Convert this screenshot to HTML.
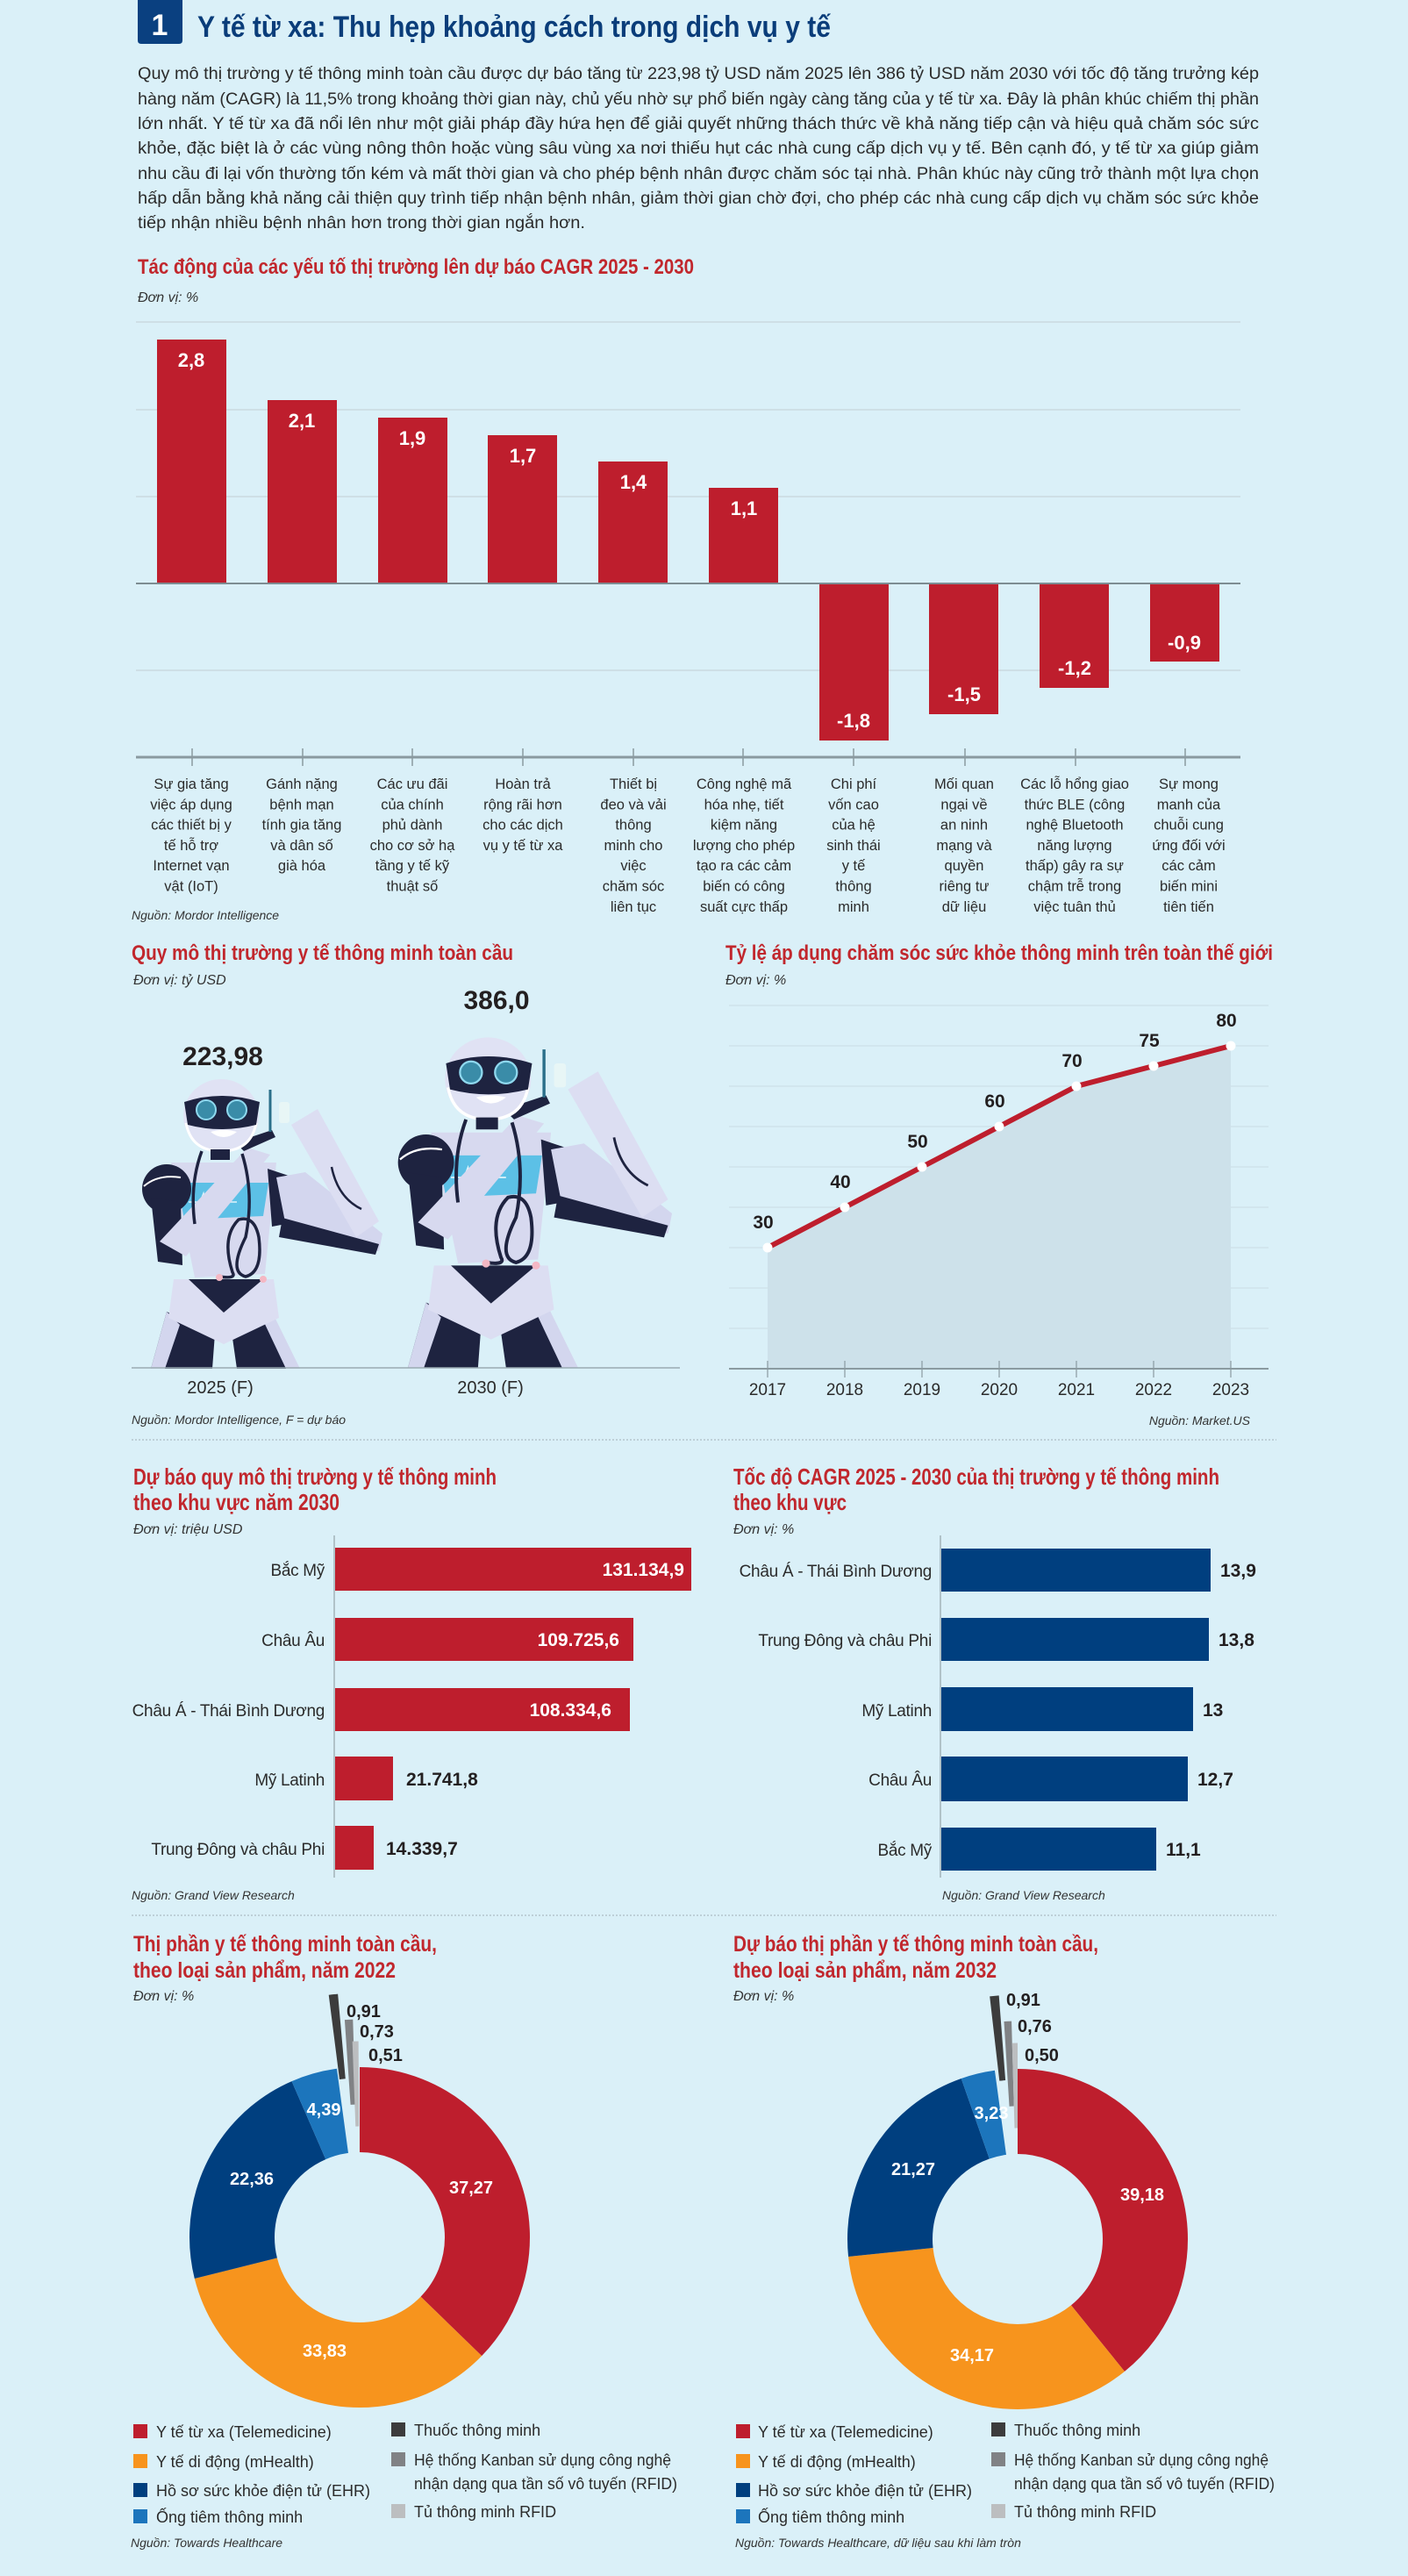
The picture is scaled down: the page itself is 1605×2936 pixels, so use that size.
<!DOCTYPE html>
<html><head><meta charset="utf-8"><style>
html,body{margin:0;padding:0;background:#daf0f8;}
svg{display:block;font-family:"Liberation Sans",sans-serif;}
.h{font-weight:bold;fill:#c1272d;}
.u{font-style:italic;fill:#333;font-size:16px;}
.src{font-style:italic;fill:#333;font-size:14px;}
.p{font-size:19px;fill:#2b2b2b;}
.cat{font-size:16.5px;fill:#2b2b2b;text-anchor:middle;}
.bv{font-size:22px;fill:#fff;font-weight:bold;text-anchor:middle;}
.lg{font-size:18px;fill:#2b2b2b;}
.hl{font-size:19px;fill:#2b2b2b;text-anchor:end;letter-spacing:-0.3px;}
</style></head><body>
<svg width="1605" height="2936" viewBox="0 0 1605 2936" xmlns="http://www.w3.org/2000/svg">
<defs>
<radialGradient id="sh" cx="0.5" cy="1" r="0.5">
<stop offset="0" stop-color="#9fb2ba"/><stop offset="1" stop-color="#daf0f8" stop-opacity="0"/>
</radialGradient>
<g id="robot">
  <polygon points="40,275 95,300 92,340 22,340" fill="#1e2340"/>
  <polygon points="40,275 22,340 38,340 55,290" fill="#d3d6ee"/>
  <polygon points="115,305 160,275 187,340 120,340" fill="#1e2340"/>
  <polygon points="160,275 192,340 176,340 150,285" fill="#d3d6ee"/>
  <polygon points="48,238 162,238 168,282 105,312 42,282" fill="#dcdef2"/>
  <polygon points="65,238 150,238 105,276" fill="#1e2340"/>
  <polygon points="45,105 165,105 152,232 72,236" fill="#d7d9ef"/>
  <polygon points="52,128 156,128 150,166 60,170" fill="#5cc0e6"/>
  <polyline points="65,150 78,150 82,140 86,158 90,146 100,150 120,150" fill="none" stroke="#dff4fb" stroke-width="1.5"/>
  <circle cx="40" cy="135" r="28" fill="#1e2340"/>
  <path d="M14,132 Q30,118 56,122" fill="none" stroke="#fff" stroke-width="2"/>
  <polygon points="155,112 185,122 192,172 160,178" fill="#1e2340"/>
  <polygon points="22,145 56,150 58,222 30,218" fill="#1e2340"/>
  <polygon points="32,195 132,88 158,96 62,212" fill="#d7d9ef"/>
  <polygon points="118,82 160,68 164,76 128,92" fill="#1e2340"/>
  <polygon points="165,122 198,116 286,186 282,206 178,188" fill="#d3d6ee"/>
  <polygon points="172,168 282,198 278,210 168,190" fill="#1e2340"/>
  <polygon points="182,62 212,44 282,172 256,190" fill="#dcdef2"/>
  <path d="M228,110 Q235,145 262,158" fill="none" stroke="#1e2340" stroke-width="2.5"/>
  <rect x="168" y="36" width="12" height="24" rx="3" fill="#e8f6f6"/>
  <line x1="158" y1="22" x2="158" y2="70" stroke="#2b6f8a" stroke-width="3"/>
  <ellipse cx="102" cy="52" rx="43" ry="42" fill="#e0e2f4"/>
  <path d="M62,60 Q68,92 102,92 Q136,92 142,60" fill="none" stroke="#fff" stroke-width="3"/>
  <path d="M60,36 Q102,22 146,36 L142,62 Q102,72 64,62 Z" fill="#1e2340"/>
  <circle cx="85" cy="45" r="11" fill="#3a8ca8" stroke="#8fd8ee" stroke-width="2"/>
  <circle cx="120" cy="45" r="11" fill="#3a8ca8" stroke="#8fd8ee" stroke-width="2"/>
  <path d="M90,70 Q105,66 120,70 Q105,82 90,70 Z" fill="#fff"/>
  <rect x="90" y="90" width="22" height="12" fill="#1e2340"/>
  <path d="M80,92 Q66,130 72,175 M126,95 Q140,140 130,190 Q110,230 130,235 Q150,230 145,190 Q140,165 122,170 Q102,190 115,230 Q120,238 100,235" fill="none" stroke="#1e2340" stroke-width="3.5"/>
  <circle cx="100" cy="236" r="4" fill="#f4b8c4"/><circle cx="150" cy="238" r="4" fill="#f4b8c4"/>
</g>
</defs>
<rect width="1605" height="2936" fill="#daf0f8"/>
<ellipse cx="800" cy="2945" rx="560" ry="50" fill="url(#sh)"/>

<path d="M157,0 H208 V46 Q208,50 204,50 H161 Q157,50 157,46 Z" fill="#0a4080"/>
<text x="182" y="40" font-size="34" font-weight="bold" fill="#fff" text-anchor="middle">1</text>
<text x="225" y="42" font-size="34" font-weight="bold" fill="#0a3d7a" textLength="722" lengthAdjust="spacingAndGlyphs">Y tế từ xa: Thu hẹp khoảng cách trong dịch vụ y tế</text>

<g class="p">
<text x="157" y="90" textLength="1278" lengthAdjust="spacingAndGlyphs">Quy mô thị trường y tế thông minh toàn cầu được dự báo tăng từ 223,98 tỷ USD năm 2025 lên 386 tỷ USD năm 2030 với tốc độ tăng trưởng kép</text>
<text x="157" y="119" textLength="1278" lengthAdjust="spacingAndGlyphs">hàng năm (CAGR) là 11,5% trong khoảng thời gian này, chủ yếu nhờ sự phổ biến ngày càng tăng của y tế từ xa. Đây là phân khúc chiếm thị phần</text>
<text x="157" y="147" textLength="1278" lengthAdjust="spacingAndGlyphs">lớn nhất. Y tế từ xa đã nổi lên như một giải pháp đầy hứa hẹn để giải quyết những thách thức về khả năng tiếp cận và hiệu quả chăm sóc sức</text>
<text x="157" y="175" textLength="1278" lengthAdjust="spacingAndGlyphs">khỏe, đặc biệt là ở các vùng nông thôn hoặc vùng sâu vùng xa nơi thiếu hụt các nhà cung cấp dịch vụ y tế. Bên cạnh đó, y tế từ xa giúp giảm</text>
<text x="157" y="204" textLength="1278" lengthAdjust="spacingAndGlyphs">nhu cầu đi lại vốn thường tốn kém và mất thời gian và cho phép bệnh nhân được chăm sóc tại nhà. Phân khúc này cũng trở thành một lựa chọn</text>
<text x="157" y="232" textLength="1278" lengthAdjust="spacingAndGlyphs">hấp dẫn bằng khả năng cải thiện quy trình tiếp nhận bệnh nhân, giảm thời gian chờ đợi, cho phép các nhà cung cấp dịch vụ chăm sóc sức khỏe</text>
<text x="157" y="260" textLength="510" lengthAdjust="spacingAndGlyphs">tiếp nhận nhiều bệnh nhân hơn trong thời gian ngắn hơn.</text>
</g>

<text class="h" x="157" y="312" font-size="24" textLength="634" lengthAdjust="spacingAndGlyphs">Tác động của các yếu tố thị trường lên dự báo CAGR 2025 - 2030</text>
<text class="u" x="157" y="344">Đơn vị: %</text>
<g stroke="#c9d9df" stroke-width="1.5">
<line x1="155" y1="367" x2="1414" y2="367"/><line x1="155" y1="467" x2="1414" y2="467"/>
<line x1="155" y1="566" x2="1414" y2="566"/><line x1="155" y1="764" x2="1414" y2="764"/>
</g>
<g fill="#be1e2d">
<rect x="179" y="387" width="79" height="278"/>
<rect x="305" y="456" width="79" height="209"/>
<rect x="431" y="476" width="79" height="189"/>
<rect x="556" y="496" width="79" height="169"/>
<rect x="682" y="526" width="79" height="139"/>
<rect x="808" y="556" width="79" height="109"/>
<rect x="934" y="665" width="79" height="179"/>
<rect x="1059" y="665" width="79" height="149"/>
<rect x="1185" y="665" width="79" height="119"/>
<rect x="1311" y="665" width="79" height="89"/>
</g>
<line x1="155" y1="665" x2="1414" y2="665" stroke="#7d8c92" stroke-width="2"/>
<g class="bv">
<text x="218" y="418">2,8</text><text x="344" y="487">2,1</text><text x="470" y="507">1,9</text>
<text x="596" y="527">1,7</text><text x="722" y="557">1,4</text><text x="848" y="587">1,1</text>
<text x="973" y="829">-1,8</text><text x="1099" y="799">-1,5</text><text x="1225" y="769">-1,2</text><text x="1350" y="740">-0,9</text>
</g>
<line x1="155" y1="863" x2="1414" y2="863" stroke="#8a9aa0" stroke-width="3"/>
<g stroke="#8a9aa0" stroke-width="1.5">
<line x1="219" y1="853" x2="219" y2="873"/><line x1="345" y1="853" x2="345" y2="873"/><line x1="470" y1="853" x2="470" y2="873"/>
<line x1="596" y1="853" x2="596" y2="873"/><line x1="722" y1="853" x2="722" y2="873"/><line x1="847" y1="853" x2="847" y2="873"/>
<line x1="973" y1="853" x2="973" y2="873"/><line x1="1100" y1="853" x2="1100" y2="873"/><line x1="1226" y1="853" x2="1226" y2="873"/>
<line x1="1351" y1="853" x2="1351" y2="873"/>
</g>
<g class="cat">
<text x="218" y="899">Sự gia tăng<tspan x="218" dy="23.3">việc áp dụng</tspan><tspan x="218" dy="23.3">các thiết bị y</tspan><tspan x="218" dy="23.3">tế hỗ trợ</tspan><tspan x="218" dy="23.3">Internet vạn</tspan><tspan x="218" dy="23.3">vật (IoT)</tspan></text>
<text x="344" y="899">Gánh nặng<tspan x="344" dy="23.3">bệnh mạn</tspan><tspan x="344" dy="23.3">tính gia tăng</tspan><tspan x="344" dy="23.3">và dân số</tspan><tspan x="344" dy="23.3">già hóa</tspan></text>
<text x="470" y="899">Các ưu đãi<tspan x="470" dy="23.3">của chính</tspan><tspan x="470" dy="23.3">phủ dành</tspan><tspan x="470" dy="23.3">cho cơ sở hạ</tspan><tspan x="470" dy="23.3">tầng y tế kỹ</tspan><tspan x="470" dy="23.3">thuật số</tspan></text>
<text x="596" y="899">Hoàn trả<tspan x="596" dy="23.3">rộng rãi hơn</tspan><tspan x="596" dy="23.3">cho các dịch</tspan><tspan x="596" dy="23.3">vụ y tế từ xa</tspan></text>
<text x="722" y="899">Thiết bị<tspan x="722" dy="23.3">đeo và vải</tspan><tspan x="722" dy="23.3">thông</tspan><tspan x="722" dy="23.3">minh cho</tspan><tspan x="722" dy="23.3">việc</tspan><tspan x="722" dy="23.3">chăm sóc</tspan><tspan x="722" dy="23.3">liên tục</tspan></text>
<text x="848" y="899">Công nghệ mã<tspan x="848" dy="23.3">hóa nhẹ, tiết</tspan><tspan x="848" dy="23.3">kiệm năng</tspan><tspan x="848" dy="23.3">lượng cho phép</tspan><tspan x="848" dy="23.3">tạo ra các cảm</tspan><tspan x="848" dy="23.3">biến có công</tspan><tspan x="848" dy="23.3">suất cực thấp</tspan></text>
<text x="973" y="899">Chi phí<tspan x="973" dy="23.3">vốn cao</tspan><tspan x="973" dy="23.3">của hệ</tspan><tspan x="973" dy="23.3">sinh thái</tspan><tspan x="973" dy="23.3">y tế</tspan><tspan x="973" dy="23.3">thông</tspan><tspan x="973" dy="23.3">minh</tspan></text>
<text x="1099" y="899">Mối quan<tspan x="1099" dy="23.3">ngại về</tspan><tspan x="1099" dy="23.3">an ninh</tspan><tspan x="1099" dy="23.3">mạng và</tspan><tspan x="1099" dy="23.3">quyền</tspan><tspan x="1099" dy="23.3">riêng tư</tspan><tspan x="1099" dy="23.3">dữ liệu</tspan></text>
<text x="1225" y="899">Các lỗ hổng giao<tspan x="1225" dy="23.3">thức BLE (công</tspan><tspan x="1225" dy="23.3">nghệ Bluetooth</tspan><tspan x="1225" dy="23.3">năng lượng</tspan><tspan x="1225" dy="23.3">thấp) gây ra sự</tspan><tspan x="1225" dy="23.3">chậm trễ trong</tspan><tspan x="1225" dy="23.3">việc tuân thủ</tspan></text>
<text x="1355" y="899">Sự mong<tspan x="1355" dy="23.3">manh của</tspan><tspan x="1355" dy="23.3">chuỗi cung</tspan><tspan x="1355" dy="23.3">ứng đối với</tspan><tspan x="1355" dy="23.3">các cảm</tspan><tspan x="1355" dy="23.3">biến mini</tspan><tspan x="1355" dy="23.3">tiên tiến</tspan></text>
</g>
<text class="src" x="150" y="1048">Nguồn: Mordor Intelligence</text>

<text class="h" x="150" y="1094" font-size="24" textLength="435" lengthAdjust="spacingAndGlyphs">Quy mô thị trường y tế thông minh toàn cầu</text>
<text class="u" x="152" y="1122">Đơn vị: tỷ USD</text>
<use href="#robot" transform="translate(150,1220)"/>
<use href="#robot" transform="translate(440,1171) scale(1.14)"/>
<line x1="150" y1="1559" x2="775" y2="1559" stroke="#9aabb2" stroke-width="1.5"/>
<text x="254" y="1214" font-size="30" font-weight="bold" fill="#231f20" text-anchor="middle">223,98</text>
<text x="566" y="1150" font-size="30" font-weight="bold" fill="#231f20" text-anchor="middle">386,0</text>
<text x="251" y="1588" font-size="20" fill="#2b2b2b" text-anchor="middle">2025 (F)</text>
<text x="559" y="1588" font-size="20" fill="#2b2b2b" text-anchor="middle">2030 (F)</text>
<text class="src" x="150" y="1623" font-size="12.5">Nguồn: Mordor Intelligence, F = dự báo</text>

<text class="h" x="827" y="1094" font-size="24" textLength="624" lengthAdjust="spacingAndGlyphs">Tỷ lệ áp dụng chăm sóc sức khỏe thông minh trên toàn thế giới</text>
<text class="u" x="827" y="1122">Đơn vị: %</text>
<g stroke="#cadde4" stroke-width="1">
<line x1="831" y1="1146" x2="1446" y2="1146"/><line x1="831" y1="1192" x2="1446" y2="1192"/>
<line x1="831" y1="1238" x2="1446" y2="1238"/><line x1="831" y1="1284" x2="1446" y2="1284"/>
<line x1="831" y1="1330" x2="1446" y2="1330"/><line x1="831" y1="1376" x2="1446" y2="1376"/>
<line x1="831" y1="1422" x2="1446" y2="1422"/><line x1="831" y1="1468" x2="1446" y2="1468"/>
<line x1="831" y1="1514" x2="1446" y2="1514"/>
</g>
<polygon points="875,1560 875,1422 963,1376 1051,1330 1139,1284 1227,1238 1315,1215 1403,1192 1403,1560" fill="#cde1ea"/>
<line x1="831" y1="1560" x2="1446" y2="1560" stroke="#8a9aa0" stroke-width="2"/>
<g stroke="#8a9aa0" stroke-width="1.2">
<line x1="875" y1="1551" x2="875" y2="1570"/><line x1="963" y1="1551" x2="963" y2="1570"/><line x1="1051" y1="1551" x2="1051" y2="1570"/>
<line x1="1139" y1="1551" x2="1139" y2="1570"/><line x1="1227" y1="1551" x2="1227" y2="1570"/><line x1="1315" y1="1551" x2="1315" y2="1570"/><line x1="1403" y1="1551" x2="1403" y2="1570"/>
</g>
<polyline points="875,1422 963,1376 1051,1330 1139,1284 1227,1238 1315,1215 1403,1192" fill="none" stroke="#be1e2d" stroke-width="6" stroke-linejoin="round"/>
<g fill="#fff"><circle cx="875" cy="1422" r="5.5"/><circle cx="963" cy="1376" r="5.5"/><circle cx="1051" cy="1330" r="5.5"/><circle cx="1139" cy="1284" r="5.5"/><circle cx="1227" cy="1238" r="5.5"/><circle cx="1315" cy="1215" r="5.5"/><circle cx="1403" cy="1192" r="5.5"/></g>
<g font-size="21" font-weight="bold" fill="#231f20" text-anchor="middle">
<text x="870" y="1400">30</text><text x="958" y="1354">40</text><text x="1046" y="1308">50</text><text x="1134" y="1262">60</text><text x="1222" y="1216">70</text><text x="1310" y="1193">75</text><text x="1398" y="1170">80</text>
</g>
<g font-size="19" fill="#2b2b2b" text-anchor="middle">
<text x="875" y="1590">2017</text><text x="963" y="1590">2018</text><text x="1051" y="1590">2019</text><text x="1139" y="1590">2020</text><text x="1227" y="1590">2021</text><text x="1315" y="1590">2022</text><text x="1403" y="1590">2023</text>
</g>
<text class="src" x="1425" y="1624" text-anchor="end">Nguồn: Market.US</text>

<line x1="150" y1="1641" x2="1455" y2="1641" stroke="#b5c6cd" stroke-width="1.5" stroke-dasharray="2 2"/>

<text class="h" x="152" y="1692" font-size="26" textLength="414" lengthAdjust="spacingAndGlyphs">Dự báo quy mô thị trường y tế thông minh</text>
<text class="h" x="152" y="1721" font-size="26" textLength="235" lengthAdjust="spacingAndGlyphs">theo khu vực năm 2030</text>
<text class="u" x="152" y="1748">Đơn vị: triệu USD</text>
<line x1="381" y1="1750" x2="381" y2="2140" stroke="#a2b2b8" stroke-width="1.5"/>
<g fill="#be1e2d">
<rect x="382" y="1764" width="406" height="49"/><rect x="382" y="1844" width="340" height="49"/>
<rect x="382" y="1924" width="336" height="49"/><rect x="382" y="2002" width="66" height="50"/>
<rect x="382" y="2081" width="44" height="50"/>
</g>
<g class="hl">
<text x="370" y="1796">Bắc Mỹ</text><text x="370" y="1876">Châu Âu</text><text x="370" y="1956">Châu Á - Thái Bình Dương</text>
<text x="370" y="2035">Mỹ Latinh</text><text x="370" y="2114">Trung Đông và châu Phi</text>
</g>
<g font-size="21" font-weight="bold">
<text x="780" y="1796" fill="#fff" text-anchor="end">131.134,9</text>
<text x="706" y="1876" fill="#fff" text-anchor="end">109.725,6</text>
<text x="697" y="1956" fill="#fff" text-anchor="end">108.334,6</text>
<text x="463" y="2035" fill="#231f20">21.741,8</text>
<text x="440" y="2114" fill="#231f20">14.339,7</text>
</g>
<text class="src" x="150" y="2165">Nguồn: Grand View Research</text>

<text class="h" x="836" y="1692" font-size="26" textLength="554" lengthAdjust="spacingAndGlyphs">Tốc độ CAGR 2025 - 2030 của thị trường y tế thông minh</text>
<text class="h" x="836" y="1721" font-size="26" textLength="129" lengthAdjust="spacingAndGlyphs">theo khu vực</text>
<text class="u" x="836" y="1748">Đơn vị: %</text>
<line x1="1072" y1="1750" x2="1072" y2="2140" stroke="#a2b2b8" stroke-width="1.5"/>
<g fill="#003f7f">
<rect x="1073" y="1765" width="307" height="49"/><rect x="1073" y="1844" width="305" height="49"/>
<rect x="1073" y="1923" width="287" height="50"/><rect x="1073" y="2002" width="281" height="51"/>
<rect x="1073" y="2083" width="245" height="49"/>
</g>
<g class="hl">
<text x="1062" y="1797">Châu Á - Thái Bình Dương</text><text x="1062" y="1876">Trung Đông và châu Phi</text>
<text x="1062" y="1956">Mỹ Latinh</text><text x="1062" y="2035">Châu Âu</text><text x="1062" y="2115">Bắc Mỹ</text>
</g>
<g font-size="21" font-weight="bold" fill="#231f20">
<text x="1391" y="1797">13,9</text><text x="1389" y="1876">13,8</text><text x="1371" y="1956">13</text><text x="1365" y="2035">12,7</text><text x="1329" y="2115">11,1</text>
</g>
<text class="src" x="1074" y="2165">Nguồn: Grand View Research</text>

<line x1="150" y1="2183" x2="1455" y2="2183" stroke="#b5c6cd" stroke-width="1.5" stroke-dasharray="2 2"/>

<text class="h" x="152" y="2224" font-size="25" textLength="346" lengthAdjust="spacingAndGlyphs">Thị phần y tế thông minh toàn cầu,</text>
<text class="h" x="152" y="2254" font-size="25" textLength="299" lengthAdjust="spacingAndGlyphs">theo loại sản phẩm, năm 2022</text>
<text class="u" x="152" y="2280">Đơn vị: %</text>
<g transform="translate(410,2550) rotate(-90)" fill="none" stroke-width="97">
<circle r="145.5" pathLength="100" stroke="#be1e2d" stroke-dasharray="37.27 62.73" stroke-dashoffset="0"/>
<circle r="145.5" pathLength="100" stroke="#f7941d" stroke-dasharray="33.83 66.17" stroke-dashoffset="-37.27"/>
<circle r="145.5" pathLength="100" stroke="#003f7f" stroke-dasharray="22.36 77.64" stroke-dashoffset="-71.10"/>
<circle r="145.5" pathLength="100" stroke="#1c75bc" stroke-dasharray="4.39 95.61" stroke-dashoffset="-93.46"/>
<circle r="230" pathLength="100" stroke="#3c3c3c" stroke-dasharray="0.6 99.4" stroke-dashoffset="-98.0"/>
<circle r="200" pathLength="100" stroke="#808285" stroke-dasharray="0.6 99.4" stroke-dashoffset="-98.9"/>
<circle r="175" pathLength="100" stroke="#bcbec0" stroke-dasharray="0.5 99.5" stroke-dashoffset="-99.4"/>
</g>
<g font-size="20" font-weight="bold" fill="#fff" text-anchor="middle">
<text x="537" y="2500">37,27</text><text x="370" y="2686">33,83</text><text x="287" y="2490">22,36</text><text x="369" y="2411">4,39</text>
</g>
<g font-size="20" font-weight="bold" fill="#231f20">
<text x="395" y="2299">0,91</text><text x="410" y="2322">0,73</text><text x="420" y="2349">0,51</text>
</g>
<g class="lg">
<rect x="152" y="2763" width="16" height="16" fill="#be1e2d"/><text x="178" y="2778">Y tế từ xa (Telemedicine)</text>
<rect x="152" y="2797" width="16" height="16" fill="#f7941d"/><text x="178" y="2812">Y tế di động (mHealth)</text>
<rect x="152" y="2830" width="16" height="16" fill="#003f7f"/><text x="178" y="2845">Hồ sơ sức khỏe điện tử (EHR)</text>
<rect x="152" y="2860" width="16" height="16" fill="#1c75bc"/><text x="178" y="2875">Ống tiêm thông minh</text>
<rect x="446" y="2761" width="16" height="16" fill="#3c3c3c"/><text x="472" y="2776">Thuốc thông minh</text>
<rect x="446" y="2795" width="16" height="16" fill="#808285"/><text x="472" y="2810" textLength="293" lengthAdjust="spacingAndGlyphs">Hệ thống Kanban sử dụng công nghệ</text>
<text x="472" y="2837" textLength="300" lengthAdjust="spacingAndGlyphs">nhận dạng qua tần số vô tuyến (RFID)</text>
<rect x="446" y="2854" width="16" height="16" fill="#bcbec0"/><text x="472" y="2869">Tủ thông minh RFID</text>
</g>
<text class="src" x="149" y="2903" font-size="13">Nguồn: Towards Healthcare</text>

<text class="h" x="836" y="2224" font-size="25" textLength="416" lengthAdjust="spacingAndGlyphs">Dự báo thị phần y tế thông minh toàn cầu,</text>
<text class="h" x="836" y="2254" font-size="25" textLength="300" lengthAdjust="spacingAndGlyphs">theo loại sản phẩm, năm 2032</text>
<text class="u" x="836" y="2280">Đơn vị: %</text>
<g transform="translate(1160,2552) rotate(-90)" fill="none" stroke-width="97">
<circle r="145.5" pathLength="100" stroke="#be1e2d" stroke-dasharray="39.18 60.82" stroke-dashoffset="0"/>
<circle r="145.5" pathLength="100" stroke="#f7941d" stroke-dasharray="34.17 65.83" stroke-dashoffset="-39.18"/>
<circle r="145.5" pathLength="100" stroke="#003f7f" stroke-dasharray="21.27 78.73" stroke-dashoffset="-73.35"/>
<circle r="145.5" pathLength="100" stroke="#1c75bc" stroke-dasharray="3.23 96.77" stroke-dashoffset="-94.62"/>
<circle r="230" pathLength="100" stroke="#3c3c3c" stroke-dasharray="0.6 99.4" stroke-dashoffset="-98.2"/>
<circle r="200" pathLength="100" stroke="#808285" stroke-dasharray="0.55 99.45" stroke-dashoffset="-99.0"/>
<circle r="175" pathLength="100" stroke="#bcbec0" stroke-dasharray="0.45 99.55" stroke-dashoffset="-99.55"/>
</g>
<g font-size="20" font-weight="bold" fill="#fff" text-anchor="middle">
<text x="1302" y="2508">39,18</text><text x="1108" y="2691">34,17</text><text x="1041" y="2479">21,27</text><text x="1130" y="2415">3,23</text>
</g>
<g font-size="20" font-weight="bold" fill="#231f20">
<text x="1147" y="2286">0,91</text><text x="1160" y="2316">0,76</text><text x="1168" y="2349">0,50</text>
</g>
<g class="lg">
<rect x="839" y="2763" width="16" height="16" fill="#be1e2d"/><text x="864" y="2778">Y tế từ xa (Telemedicine)</text>
<rect x="839" y="2797" width="16" height="16" fill="#f7941d"/><text x="864" y="2812">Y tế di động (mHealth)</text>
<rect x="839" y="2830" width="16" height="16" fill="#003f7f"/><text x="864" y="2845">Hồ sơ sức khỏe điện tử (EHR)</text>
<rect x="839" y="2860" width="16" height="16" fill="#1c75bc"/><text x="864" y="2875">Ống tiêm thông minh</text>
<rect x="1130" y="2761" width="16" height="16" fill="#3c3c3c"/><text x="1156" y="2776">Thuốc thông minh</text>
<rect x="1130" y="2795" width="16" height="16" fill="#808285"/><text x="1156" y="2810" textLength="290" lengthAdjust="spacingAndGlyphs">Hệ thống Kanban sử dụng công nghệ</text>
<text x="1156" y="2837" textLength="297" lengthAdjust="spacingAndGlyphs">nhận dạng qua tần số vô tuyến (RFID)</text>
<rect x="1130" y="2854" width="16" height="16" fill="#bcbec0"/><text x="1156" y="2869">Tủ thông minh RFID</text>
</g>
<text class="src" x="838" y="2903" font-size="13">Nguồn: Towards Healthcare, dữ liệu sau khi làm tròn</text>
</svg>
</body></html>
